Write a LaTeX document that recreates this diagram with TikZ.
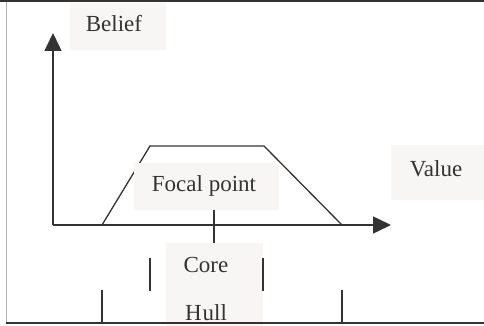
\documentclass[tikz,border=0pt]{standalone}
\usepackage{fontspec}
\setmainfont{Liberation Serif}
\usetikzlibrary{arrows.meta}
\definecolor{ink}{HTML}{333333}
\definecolor{boxfill}{HTML}{F7F6F4}
\definecolor{frameg}{HTML}{B0B0B0}
\tikzset{
  bg/.style={fill=boxfill, draw=none, inner sep=0pt, anchor=north west},
  lbl/.style={font=\fontsize{23}{26}\selectfont, text=ink, inner sep=0pt, anchor=base},
  axis/.style={draw=ink, line width=1.5pt, -{Triangle[length=18pt,width=17pt]}},
  curve/.style={draw=ink, line width=1.3pt},
  tick/.style={draw=ink, line width=1.3pt},
}
\begin{document}
\begin{tikzpicture}[x=1pt,y=-1pt]
\useasboundingbox (0,0) rectangle (484,326);
% axes and trapezoid
\coordinate (O) at (53,225);
\coordinate (ytip) at (53,33);
\coordinate (xtip) at (391,225);
\draw[axis] (O) -- (ytip);
\draw[axis] (O) -- (xtip);
\coordinate (t1) at (102,225);
\coordinate (t2) at (150,146);
\coordinate (t3) at (264,146);
\coordinate (t4) at (342,225);
\draw[curve] (t1) -- (t2) -- (t3) -- (t4);
% boxes
\node[bg, minimum width=96pt, minimum height=47pt] (beliefbox) at (70,3) {};
\node[bg, minimum width=145pt, minimum height=47pt] (focalbox) at (134,163) {};
\node[bg, minimum width=93pt, minimum height=55pt] (valuebox) at (391,145) {};
\node[bg, minimum width=97pt, minimum height=83pt] (corebox) at (166,243) {};
% labels
\node[lbl] (belief) at (114,32) {Belief};
\node[lbl] (focal) at (204,191) {Focal point};
\node[lbl] (value) at (436,176) {Value};
\node[lbl] (core) at (206,272) {Core};
\node[lbl] (hull) at (206,320) {H\kern1pt ull};
% connector focal -> core
\coordinate (fx) at (214,225);
\draw[tick] (fx |- focalbox.south) -- (fx |- corebox.north);
% core and hull marks
\coordinate (c1a) at (150,258); \coordinate (c1b) at (150,291);
\coordinate (c2a) at (263,258); \coordinate (c2b) at (263,291);
\coordinate (h1a) at (102,290); \coordinate (h1b) at (102,322);
\coordinate (h2a) at (342,290); \coordinate (h2b) at (342,322);
\draw[tick] (c1a) -- (c1b);
\draw[tick] (c2a) -- (c2b);
\draw[tick] (h1a) -- (h1b);
\draw[tick] (h2a) -- (h2b);
% frame
\coordinate (f1) at (0,1);
\coordinate (f2) at (484,1);
\coordinate (f3) at (6,1);
\coordinate (f4) at (6,322.5);
\coordinate (f5) at (484,322.5);
\draw[frameg, line width=1pt] (f3) -- (f4);
\draw[ink, line width=1.6pt] (f1) -- (f2);
\draw[ink, line width=2pt] (f4) -- (f5);
\end{tikzpicture}
\end{document}
